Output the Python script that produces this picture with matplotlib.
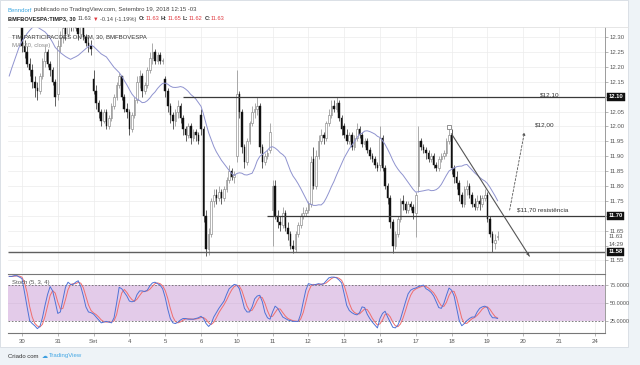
import matplotlib
matplotlib.use('Agg')
import matplotlib.pyplot as plt
import numpy as np
import pandas as pd
from matplotlib.patches import Rectangle
from matplotlib.transforms import blended_transform_factory

FAM = ['Liberation Sans', 'DejaVu Sans']
plt.rcParams['font.family'] = FAM

# ---------------- data (30-min bars, first bar index = -24) ----------------
first_bar = -24
opens = [
    11.92, 11.93, 11.95, 11.94, 11.96, 11.95, 11.97, 11.96, 11.98, 11.97,
    12.02, 12.20, 12.28, 12.33, 12.36, 12.40, 12.42, 12.44, 12.43, 12.45, 12.47, 12.46, 12.44, 12.45,
    12.43, 12.27, 12.25, 12.21, 12.19, 12.15, 12.13, 12.12, 12.17, 12.22, 12.25, 12.21, 12.19, 12.15,
    12.11, 12.27, 12.30, 12.33, 12.31, 12.35, 12.34, 12.36, 12.33, 12.31, 12.34, 12.30, 12.28, 12.27,
    12.16, 12.12, 12.08, 12.05, 12.02, 12.05, 12.00, 12.03, 12.07, 12.10, 12.14, 12.17, 12.10, 12.06,
    12.05, 11.99, 12.04, 12.09, 12.15, 12.17, 12.12, 12.14, 12.19, 12.23, 12.25, 12.22, 12.24, 12.22,
    12.16, 12.12, 12.07, 12.04, 12.02, 12.05, 12.07, 12.03, 11.99, 11.97, 12.00, 11.96, 11.98, 11.97,
    12.04, 11.99, 11.70, 11.59, 11.64, 11.75, 11.77, 11.76, 11.78, 11.76, 11.79, 11.82, 11.85, 11.83,
    11.90, 12.11, 12.05, 11.93, 11.88, 11.95, 12.01, 12.05, 12.06, 12.07, 11.93, 11.88, 11.90, 11.92,
    11.72, 11.80, 11.70, 11.68, 11.67, 11.71, 11.66, 11.64, 11.60, 11.59, 11.64, 11.67, 11.70, 11.71,
    11.72, 11.74, 11.89, 11.80, 11.90, 11.95, 11.97, 11.96, 12.01, 12.04, 12.07, 12.06, 12.08, 12.03,
    12.00, 11.97, 11.95, 11.97, 11.93, 11.96, 11.99, 11.97, 11.94, 11.95, 11.92, 11.90, 11.89, 11.87,
    11.87, 11.96, 11.86, 11.80, 11.76, 11.68, 11.60, 11.64, 11.69, 11.75, 11.74, 11.72, 11.74, 11.73,
    11.71, 11.80, 11.95, 11.93, 11.92, 11.91, 11.89, 11.90, 11.87, 11.86, 11.89, 11.90, 11.91, 11.95,
    11.97, 11.86, 11.83, 11.81, 11.77, 11.74, 11.79, 11.80, 11.77, 11.74, 11.73, 11.75, 11.74, 11.76,
    11.77, 11.69, 11.64, 11.61, 11.63,
]
highs = [
    11.95, 11.96, 11.96, 11.97, 11.97, 11.98, 11.98, 11.99, 11.99, 12.01,
    12.22, 12.30, 12.35, 12.38, 12.42, 12.44, 12.46, 12.46, 12.47, 12.49, 12.49, 12.47, 12.47, 12.46,
    12.45, 12.29, 12.27, 12.23, 12.21, 12.17, 12.15, 12.18, 12.23, 12.27, 12.26, 12.22, 12.20, 12.16,
    12.29, 12.32, 12.36, 12.35, 12.38, 12.37, 12.38, 12.37, 12.34, 12.36, 12.35, 12.31, 12.30, 12.29,
    12.19, 12.14, 12.09, 12.06, 12.06, 12.06, 12.04, 12.08, 12.11, 12.15, 12.18, 12.17, 12.11, 12.08,
    12.06, 12.05, 12.10, 12.17, 12.19, 12.18, 12.15, 12.20, 12.25, 12.28, 12.26, 12.25, 12.25, 12.23,
    12.17, 12.13, 12.08, 12.05, 12.06, 12.09, 12.08, 12.04, 12.00, 12.01, 12.01, 11.99, 11.99, 11.98,
    12.06, 12.00, 11.72, 11.66, 11.76, 11.79, 11.79, 11.80, 11.79, 11.80, 11.83, 11.87, 11.86, 11.85,
    12.19, 12.12, 12.06, 11.94, 11.96, 12.02, 12.07, 12.08, 12.10, 12.08, 11.94, 11.91, 11.92, 12.01,
    11.82, 11.82, 11.72, 11.70, 11.73, 11.72, 11.68, 11.65, 11.62, 11.65, 11.68, 11.71, 11.73, 11.73,
    11.75, 11.90, 11.93, 11.92, 11.97, 11.99, 11.98, 12.02, 12.06, 12.09, 12.09, 12.10, 12.09, 12.04,
    12.01, 11.99, 11.98, 11.98, 11.97, 12.01, 12.00, 11.98, 11.96, 11.96, 11.93, 11.91, 11.90, 11.88,
    12.00, 11.97, 11.87, 11.81, 11.77, 11.69, 11.65, 11.70, 11.76, 11.77, 11.75, 11.75, 11.75, 11.74,
    11.78, 12.00, 11.96, 11.94, 11.93, 11.92, 11.91, 11.91, 11.88, 11.90, 11.91, 11.92, 11.96, 11.99,
    11.99, 11.87, 11.85, 11.82, 11.78, 11.80, 11.82, 11.81, 11.78, 11.76, 11.77, 11.77, 11.77, 11.79,
    11.78, 11.70, 11.65, 11.64, 11.65,
]
lows = [
    11.91, 11.92, 11.93, 11.93, 11.94, 11.94, 11.95, 11.95, 11.96, 11.96,
    12.00, 12.18, 12.26, 12.31, 12.34, 12.38, 12.40, 12.41, 12.42, 12.44, 12.44, 12.43, 12.42, 12.41,
    12.25, 12.23, 12.20, 12.17, 12.13, 12.10, 12.09, 12.11, 12.16, 12.20, 12.20, 12.17, 12.14, 12.07,
    12.09, 12.25, 12.28, 12.29, 12.30, 12.32, 12.32, 12.32, 12.29, 12.30, 12.29, 12.27, 12.25, 12.24,
    12.11, 12.06, 12.03, 12.00, 12.01, 11.99, 11.99, 12.02, 12.06, 12.09, 12.13, 12.09, 12.05, 12.03,
    11.97, 11.98, 12.03, 12.08, 12.13, 12.10, 12.11, 12.13, 12.18, 12.21, 12.21, 12.21, 12.21, 12.21,
    12.10, 12.05, 12.01, 11.99, 12.00, 12.03, 12.01, 11.97, 11.95, 11.96, 11.94, 11.95, 11.95, 11.94,
    11.97, 11.68, 11.565, 11.57, 11.63, 11.73, 11.74, 11.75, 11.74, 11.75, 11.78, 11.81, 11.82, 11.81,
    11.88, 12.03, 11.91, 11.86, 11.87, 11.94, 12.00, 12.03, 12.04, 11.91, 11.86, 11.87, 11.89, 11.91,
    11.60, 11.69, 11.66, 11.65, 11.66, 11.65, 11.62, 11.59, 11.575, 11.58, 11.63, 11.66, 11.69, 11.70,
    11.71, 11.73, 11.79, 11.79, 11.89, 11.94, 11.94, 11.95, 12.00, 12.03, 12.05, 12.05, 12.02, 11.97,
    11.96, 11.94, 11.94, 11.92, 11.92, 11.95, 11.96, 11.93, 11.93, 11.91, 11.89, 11.88, 11.86, 11.85,
    11.85, 11.85, 11.79, 11.74, 11.66, 11.575, 11.59, 11.63, 11.68, 11.72, 11.71, 11.71, 11.72, 11.69,
    11.63, 11.78, 11.92, 11.91, 11.89, 11.88, 11.88, 11.86, 11.85, 11.85, 11.88, 11.89, 11.90, 11.94,
    11.84, 11.81, 11.79, 11.75, 11.73, 11.73, 11.77, 11.76, 11.73, 11.72, 11.72, 11.72, 11.73, 11.75,
    11.68, 11.63, 11.58, 11.59, 11.62,
]
closes = [
    11.93, 11.95, 11.94, 11.96, 11.95, 11.97, 11.96, 11.98, 11.97, 12.00,
    12.20, 12.28, 12.33, 12.36, 12.40, 12.42, 12.44, 12.43, 12.45, 12.47, 12.46, 12.44, 12.45, 12.43,
    12.27, 12.25, 12.21, 12.19, 12.15, 12.13, 12.12, 12.17, 12.22, 12.25, 12.21, 12.19, 12.15, 12.10,
    12.27, 12.30, 12.33, 12.31, 12.35, 12.34, 12.36, 12.33, 12.31, 12.34, 12.30, 12.28, 12.27, 12.26,
    12.12, 12.08, 12.05, 12.02, 12.05, 12.00, 12.03, 12.07, 12.10, 12.14, 12.17, 12.10, 12.06, 12.05,
    11.99, 12.04, 12.09, 12.15, 12.17, 12.12, 12.14, 12.19, 12.23, 12.25, 12.22, 12.24, 12.22, 12.22,
    12.12, 12.07, 12.04, 12.02, 12.05, 12.07, 12.03, 11.99, 11.97, 12.00, 11.96, 11.98, 11.97, 11.95,
    11.99, 11.70, 11.59, 11.64, 11.75, 11.77, 11.76, 11.78, 11.76, 11.79, 11.82, 11.85, 11.83, 11.84,
    12.11, 12.05, 11.93, 11.88, 11.95, 12.01, 12.05, 12.06, 12.07, 11.93, 11.88, 11.90, 11.91, 11.98,
    11.80, 11.70, 11.68, 11.67, 11.71, 11.66, 11.64, 11.60, 11.59, 11.64, 11.67, 11.70, 11.71, 11.72,
    11.74, 11.88, 11.80, 11.90, 11.95, 11.97, 11.96, 12.01, 12.04, 12.07, 12.06, 12.08, 12.03, 11.99,
    11.97, 11.95, 11.97, 11.93, 11.96, 11.99, 11.97, 11.94, 11.95, 11.92, 11.90, 11.89, 11.87, 11.86,
    11.96, 11.86, 11.80, 11.76, 11.68, 11.60, 11.64, 11.69, 11.75, 11.74, 11.72, 11.74, 11.73, 11.71,
    11.77, 11.95, 11.93, 11.92, 11.91, 11.89, 11.90, 11.87, 11.86, 11.89, 11.90, 11.91, 11.95, 11.97,
    11.86, 11.83, 11.81, 11.77, 11.74, 11.79, 11.80, 11.77, 11.74, 11.73, 11.75, 11.74, 11.76, 11.77,
    11.69, 11.64, 11.61, 11.62, 11.63,
]

# Stochastic %K read per bar, starting at bar index -5
stoch_first = -5
stoch_k = [
    87, 87, 88, 88, 86,
    84, 65, 45, 26, 22, 19, 15, 18, 30, 47, 62, 73, 67, 52,
    36, 38, 55, 72, 79, 76, 76, 79, 81, 73, 60, 45, 38, 37,
    35, 31, 27, 23, 24, 25, 24, 23, 30, 50, 72, 70, 65, 60,
    53, 52, 53, 62, 67, 67, 66, 68, 74, 78, 79, 77, 75, 70,
    58, 42, 29, 23, 22, 24, 27, 29, 29, 28, 28, 28, 29, 30,
    32, 29, 22, 18, 22, 31, 37, 43, 48, 53, 62, 70, 73, 76,
    75, 70, 57, 43, 38, 38, 45, 56, 60, 61, 52, 37, 30, 28,
    38, 46, 43, 37, 31, 29, 27, 26, 25, 25, 25, 35, 52, 68,
    77, 76, 75, 76, 77, 76, 77, 81, 85, 86, 86, 85, 82, 78,
    63, 47, 40, 37, 35, 34, 37, 45, 44, 35, 29, 24, 20, 16,
    29, 36, 39, 31, 24, 17, 16, 20, 28, 40, 52, 63, 68, 70,
    71, 73, 74, 75, 70, 68, 65, 60, 52, 44, 43, 50, 61, 71,
    68, 60, 43, 26, 19, 22, 26, 29, 31, 31, 38, 43, 45, 46,
    44, 35, 30, 30, 29,
]

day_labels = ['30', '31', 'Set', '4', '5', '6', '10', '11', '12', '13', '14',
              '17', '18', '19', '20', '21', '24']
bars_per_day = 14
price_ticks = [11.55, 11.60, 11.65, 11.70, 11.75, 11.80, 11.85, 11.90, 11.95,
               12.00, 12.05, 12.10, 12.15, 12.20, 12.25, 12.30]
level_hi, level_mid, level_lo = 12.10, 11.70, 11.58
last_price = 11.63

# ---------------- figure ----------------
W, H = 640, 365
fig = plt.figure(figsize=(6.4, 3.65), dpi=100)
fig.patch.set_facecolor('#eef3f7')

def fx(px):
    return px / W

def fy(py):
    return 1 - py / H

fig.patches.append(Rectangle((0, fy(347)), fx(628), 1 - fy(347), transform=fig.transFigure,
                             facecolor='white', edgecolor='#d6dce2', lw=0.6, zorder=-5))

XL = (-5.47, 228.0)
ax = fig.add_axes([fx(8), fy(273), fx(597), (273 - 27) / H])
ax2 = fig.add_axes([fx(8), fy(333), fx(597), (333 - 273.5) / H])
for a in (ax, ax2):
    a.set_xlim(*XL)
    a.patch.set_alpha(0)

# ---------------- main price pane ----------------
o = np.array(opens); h = np.array(highs); l = np.array(lows); c = np.array(closes)
n = np.arange(first_bar, first_bar + len(c))
day_pos = np.arange(len(day_labels)) * bars_per_day

ax.set_ylim(11.508, 12.334)
ax.set_yticks(price_ticks)
ax.set_xticks(day_pos)
ax.set_axisbelow(True)
ax.grid(True, color='#ececec', lw=0.5)
ax.tick_params(axis='x', length=0, labelbottom=False)
ax.yaxis.tick_right()
ax.tick_params(axis='y', length=2, width=0.5, color='#999', labelsize=4.3, labelcolor='#555', pad=1.5)
hidden = (11.60, 11.70, 12.10)
ax.set_yticklabels(['' if any(abs(t - hv) < 1e-6 for hv in hidden) else f'{t:.2f}' for t in price_ticks])

up = c >= o
ax.vlines(n[up], l[up], h[up], color='#8a8a8a', lw=0.5, zorder=2)
ax.vlines(n[~up], l[~up], h[~up], color='#222222', lw=0.5, zorder=2)
body_h = np.maximum(np.abs(c - o), 0.0025)
ax.bar(n[up], body_h[up], bottom=np.minimum(o, c)[up], width=0.62, color='white',
       edgecolor='#7a7a7a', lw=0.4, zorder=3)
ax.bar(n[~up], body_h[~up], bottom=np.minimum(o, c)[~up], width=0.62, color='#111111',
       edgecolor='#111111', lw=0.3, zorder=3)

ma = pd.Series(c).rolling(20).mean().values
ax.plot(n, ma, color='#8f93cf', lw=0.7, zorder=4)

ax.hlines(level_hi, 63, XL[1], color='#3a3a3a', lw=0.9, zorder=5)
ax.hlines(level_mid, 95.7, XL[1], color='#3a3a3a', lw=0.9, zorder=5)
ax.hlines(level_lo, XL[0], XL[1], color='#606060', lw=1.0, zorder=5)

# trend line + markers
ax.plot([168, 198.4], [11.975, 11.565], color='#555555', lw=0.8, zorder=6)
ax.annotate('', xy=(198.4, 11.565), xytext=(197.4, 11.578),
            arrowprops=dict(arrowstyle='-|>', color='#555555', lw=0.6, mutation_scale=4), zorder=6)
ax.plot([167], [11.997], marker='s', ms=2.2, mfc='white', mec='#666', mew=0.5, zorder=7)
ax.annotate('', xy=(196.7, 11.99), xytext=(190.5, 11.71),
            arrowprops=dict(arrowstyle='-|>', color='#555555', lw=0.6, ls=(0, (2.5, 2)),
                            mutation_scale=4), zorder=6)

ax.text(206.3, 12.106, '$12,10', fontsize=4.6, color='#333', ha='center', va='center', zorder=8)
ax.text(204.3, 12.005, '$12,00', fontsize=4.6, color='#333', ha='center', va='center', zorder=8)
ax.text(193.6, 11.72, '$11,70 resistência', fontsize=4.6, color='#333', ha='left', va='center', zorder=8)

# right-axis price boxes
tr = blended_transform_factory(ax.transAxes, ax.transData)
for val in (level_hi, level_mid, level_lo):
    ax.text(1.006, val, f'{val:.2f}', transform=tr, fontsize=4.2, color='white', fontweight='bold',
            ha='left', va='center', clip_on=False, zorder=10,
            bbox=dict(boxstyle='square,pad=0.25', fc='#111111', ec='#111111', lw=0.3))
ax.text(1.006, last_price, f'{last_price:.2f}', transform=tr, fontsize=4.3, color='#555',
        ha='left', va='center', clip_on=False)
ax.text(1.006, 11.605, '14:29', transform=tr, fontsize=4.3, color='#555',
        ha='left', va='center', clip_on=False)

for side in ('left', 'top', 'bottom'):
    ax.spines[side].set_visible(False)
ax.spines['right'].set_color('#8c8c8c')
ax.spines['right'].set_linewidth(0.6)

# ---------------- stochastic pane ----------------
k = np.array(stoch_k, dtype=float)
ks = np.arange(stoch_first, stoch_first + len(k))
d = pd.Series(k).rolling(3, min_periods=1).mean().values

ax2.set_ylim(9, 91)
ax2.axhspan(25, 75, color='#e3cbe9', zorder=1, lw=0)
ax2.axhline(75, color='#6a6a6a', lw=0.6, ls=(0, (2, 2)), zorder=2)
ax2.axhline(25, color='#6a6a6a', lw=0.6, ls=(0, (2, 2)), zorder=2)
ax2.axhline(50, color='#d8c0de', lw=0.5, zorder=1.5)
ax2.set_xticks(day_pos)
ax2.set_xticklabels(day_labels)
ax2.set_axisbelow(True)
ax2.grid(True, axis='x', color='#ececec', lw=0.5)
ax2.plot(ks, d, color='#ef6e6e', lw=0.7, zorder=4)
ax2.plot(ks, k, color='#4f73d6', lw=0.7, zorder=5)
ax2.yaxis.tick_right()
ax2.set_yticks([25, 50, 75])
ax2.set_yticklabels(['25.0000', '50.0000', '75.0000'])
ax2.tick_params(axis='y', length=2, width=0.5, color='#999', labelsize=4.0, labelcolor='#555', pad=1.5)
ax2.tick_params(axis='x', length=2, width=0.5, color='#999', labelsize=4.3, labelcolor='#555', pad=2)
ax2.spines['left'].set_visible(False)
ax2.spines['top'].set_color('#777777')
ax2.spines['top'].set_linewidth(0.8)
ax2.spines['bottom'].set_color('#777777')
ax2.spines['bottom'].set_linewidth(0.8)
ax2.spines['right'].set_color('#8c8c8c')
ax2.spines['right'].set_linewidth(0.6)

# ---------------- texts ----------------
fig.add_artist(plt.Line2D([fx(8), fx(628)], [fy(27), fy(27)], color='#e2e2e2', lw=0.6))
fig.text(fx(12), fy(37), 'TIM PARTICIPACOES ON NM, 30, BMFBOVESPA', fontsize=4.3, color='#333',
         va='center', ha='left')
fig.text(fx(12), fy(45), 'MA (20, close)', fontsize=4.3, color='#8a8a8a', va='center', ha='left')
fig.text(fx(12), fy(282.5), 'Stoch (5, 3, 4)', fontsize=4.3, color='#555', va='center', ha='left')

renderer = fig.canvas.get_renderer()

def seq(x, y, pieces, size):
    for s, color, weight, gap in pieces:
        t = fig.text(fx(x), fy(y), s, fontsize=size, color=color, fontweight=weight,
                     va='center', ha='left')
        bb = t.get_window_extent(renderer=renderer)
        x += bb.width + gap

seq(8, 10, [('Benndorf', '#3aa6e0', 'normal', 1.5),
            ('publicado no TradingView.com, Setembro 19, 2018 12:15 -03', '#444', 'normal', 0)], 4.3)
red = '#e0383e'
seq(8, 19, [('BMFBOVESPA:TIMP3, 30', '#222', 'bold', 2),
            ('11.63', '#444', 'normal', 1.5),
            ('▼', red, 'normal', 1.5),
            ('-0.14 (-1.19%)', '#444', 'normal', 2),
            ('O:', '#333', 'bold', 0.5), ('11.63', red, 'normal', 2),
            ('H:', '#333', 'bold', 0.5), ('11.65', red, 'normal', 2),
            ('L:', '#333', 'bold', 0.5), ('11.62', red, 'normal', 2),
            ('C:', '#333', 'bold', 0.5), ('11.63', red, 'normal', 0)], 4.1)
seq(8, 356, [('Criado com', '#333', 'normal', 3),
             ('☁', '#3d9fe0', 'normal', 1.5),
             ('TradingView', '#41a6e4', 'normal', 0)], 4.3)

fig.savefig('out.png', dpi=100, facecolor=fig.get_facecolor())
